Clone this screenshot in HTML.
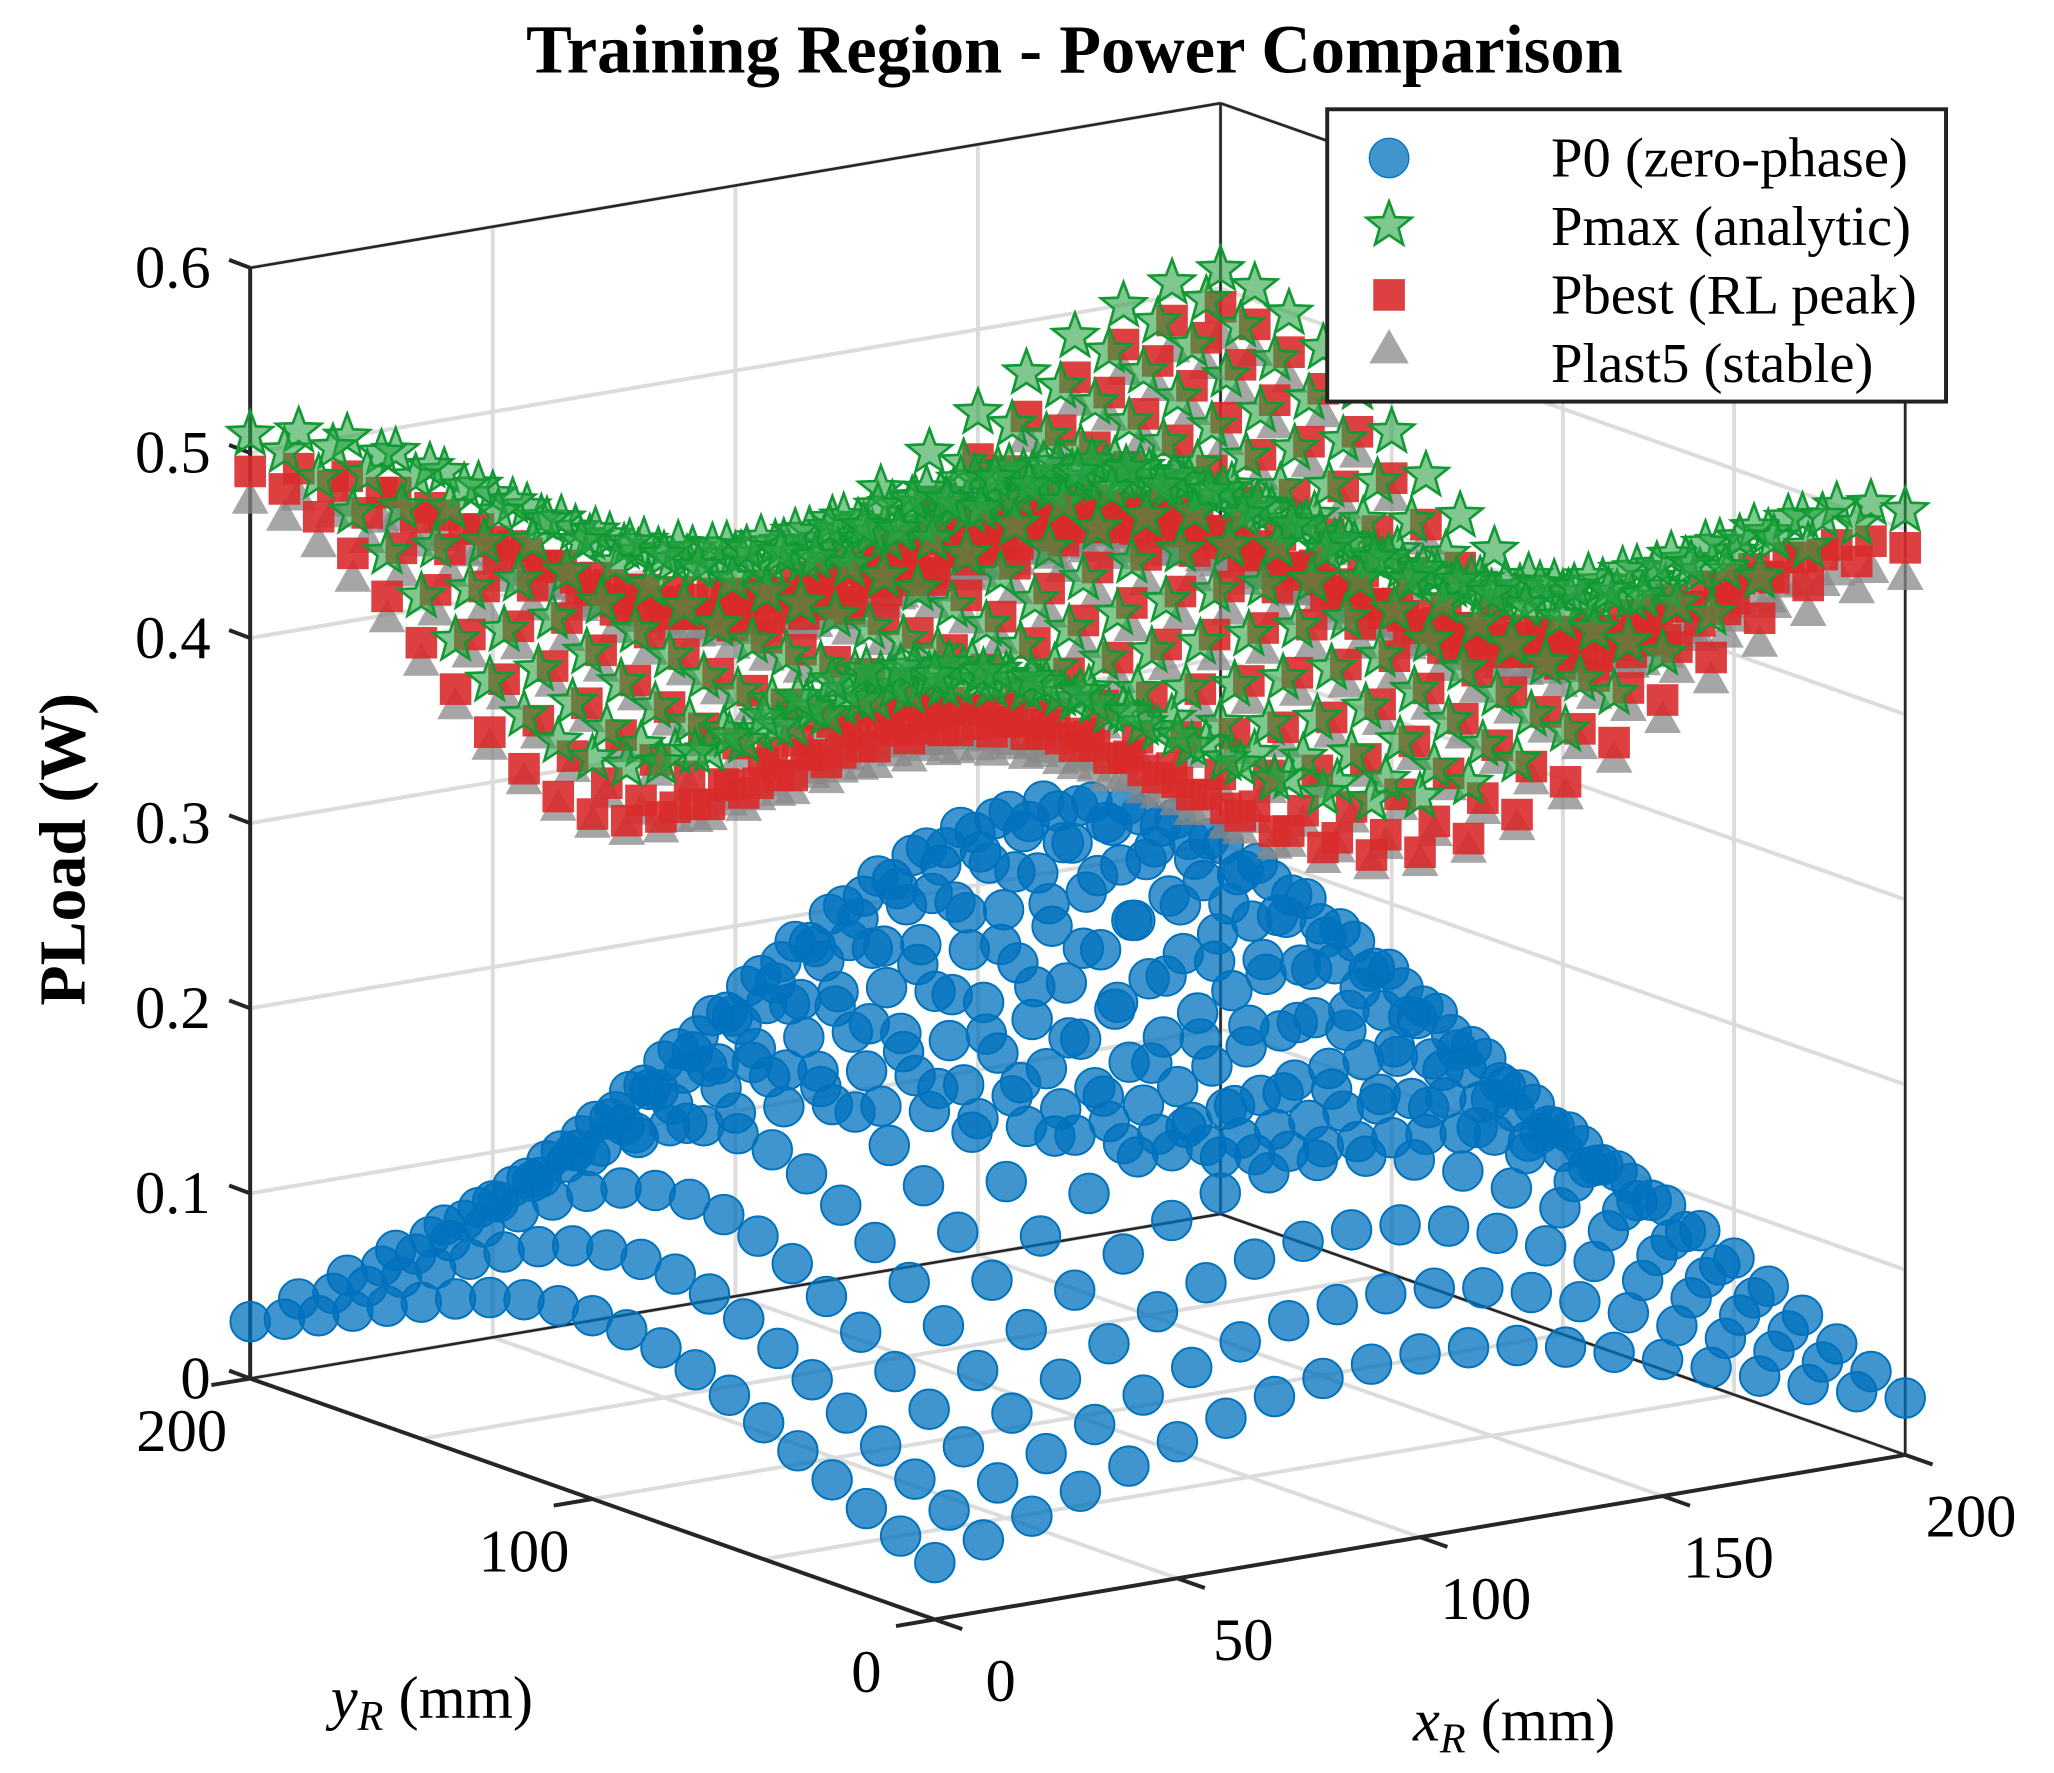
<!DOCTYPE html>
<html><head><meta charset="utf-8"><style>
html,body{margin:0;padding:0;background:#fff;}
svg{display:block;font-family:"Liberation Serif",serif;}
</style></head><body>
<svg id="chart" width="2054" height="1773" viewBox="0 0 1560 1346.6" xmlns="http://www.w3.org/2000/svg">
<g id="grid"></g>
<g id="axes"></g>
<g id="marks"></g>
<text x="816" y="55" text-anchor="middle" font-size="52" font-weight="bold">Training Region - Power Comparison</text>
<text transform="translate(64,645) rotate(-90)" text-anchor="middle" font-size="50" font-weight="bold">PLoad (W)</text>
<text x="328" y="1305" text-anchor="middle" font-size="46"><tspan font-style="italic">y</tspan><tspan font-style="italic" font-size="32" dy="9">R</tspan><tspan dy="-9"> (mm)</tspan></text>
<text x="1150" y="1322" text-anchor="middle" font-size="46"><tspan font-style="italic">x</tspan><tspan font-style="italic" font-size="32" dy="9">R</tspan><tspan dy="-9"> (mm)</tspan></text>
<g>
<rect x="1008" y="83" width="470" height="222" fill="#fff" stroke="#222" stroke-width="3"/>
<g><circle cx="1055" cy="120" r="15" fill="#0072BD" fill-opacity="0.75" stroke="#0072BD"/><text x="1178" y="134" font-size="43">P0 (zero-phase)</text></g>
<g><path id="legstar" d="" fill="#2ca444" fill-opacity="0.6" stroke="#119933" stroke-width="2"/><text x="1178" y="186" font-size="43">Pmax (analytic)</text></g>
<g><rect x="1043" y="212" width="24" height="24" fill="#d92b2b" fill-opacity="0.9"/><text x="1178" y="238" font-size="43">Pbest (RL peak)</text></g>
<g><path d="M1055,250 L1070,276 L1040,276 Z" fill="#888" fill-opacity="0.75"/><text x="1178" y="290" font-size="43">Plast5 (stable)</text></g>
</g>
</svg>
<script>
// ---- data ----
const xCats = [0,10,20,30,40,50,60,70,80,90,100,110,120,130,140,150,160,170,180,190,200];
const yCats = [0,10,20,30,40,50,60,70,80,90,100,110,120,130,140,150,160,170,180,190,200];
// P0: radial bump vs distance from centre (mm): 0,10,...,150
const radiusKnots = [0,10,20,30,40,50,60,70,80,90,100,110,120,130,140,150];
const p0Profile = [0.33,0.326,0.314,0.296,0.272,0.244,0.214,0.184,0.153,0.125,0.099,0.077,0.059,0.044,0.032,0.023];
// power surfaces: shape factors along x and y
const pwShapeX = [1,0.951,0.809,0.588,0.309,0,-0.309,-0.588,-0.809,-0.951,-1,-0.951,-0.809,-0.588,-0.309,0,0.309,0.588,0.809,0.951,1];
const pwShapeY = [1,0.951,0.809,0.588,0.309,0,-0.309,-0.588,-0.809,-0.951,-1,-0.951,-0.809,-0.588,-0.309,0,0.309,0.588,0.809,0.951,1];
const pmaxLevel = [0.455, 0.055];   // mean, amplitude
const pbestLevel = [0.43, 0.06];
const plastLevel = [0.42, 0.055];
const xTicks = [0,50,100,150,200];
const yTicks = [0,100,200];
const zTicks = [0,0.1,0.2,0.3,0.4,0.5,0.6];
const zTickLabels = ['0','0.1','0.2','0.3','0.4','0.5','0.6'];

// ---- projection ----
function P(x,y,z){const u=x/200,v=y/200;return [710+737*u-520*v,1230-125*u-183*v-z*1406];}
function radial(prof,x,y){const r=Math.hypot(x-100,y-100);let k=Math.min(Math.floor(r/10),radiusKnots.length-2);const t=(r-radiusKnots[k])/(radiusKnots[k+1]-radiusKnots[k]);return prof[k]+(prof[k+1]-prof[k])*t;}
const NS='http://www.w3.org/2000/svg';
function mk(tag,attrs,parent){const e=document.createElementNS(NS,tag);for(const k in attrs)e.setAttribute(k,attrs[k]);parent.appendChild(e);return e;}
const grid=document.getElementById('grid'),axes=document.getElementById('axes'),marks=document.getElementById('marks');
function line(a,b,par,col,w,name){const l=mk('line',{x1:a[0],y1:a[1],x2:b[0],y2:b[1],stroke:col,'stroke-width':w},par);

return l;}
const gc='#dcdcdc';
xTicks.forEach(x=>{line(P(x,200,0),P(x,200,0.6),grid,gc,3,'grid-back-wall-x');line(P(x,0,0),P(x,200,0),grid,gc,3,'grid-floor-x');});
[0,50,100,150,200].forEach(y=>{line(P(200,y,0),P(200,y,0.6),grid,gc,3,'grid-right-wall-y');line(P(0,y,0),P(200,y,0),grid,gc,3,'grid-floor-y');});
zTicks.forEach(z=>{line(P(0,200,z),P(200,200,z),grid,gc,3,'grid-back-wall-z');line(P(200,200,z),P(200,0,z),grid,gc,3,'grid-right-wall-z');});
const ac='#262626';
line(P(0,200,0),P(0,200,0.6),axes,ac,3,'z-axis-line');
line(P(200,200,0),P(200,200,0.6),axes,ac,2,'box-edge');
line(P(0,200,0.6),P(200,200,0.6),axes,ac,2,'box-edge');
line(P(200,200,0.6),P(200,0,0.6),axes,ac,2,'box-edge');
line(P(200,0,0),P(200,0,0.6),axes,ac,2,'box-edge');
line(P(0,200,0),P(200,200,0),axes,ac,2,'box-edge');
line(P(200,200,0),P(200,0,0),axes,ac,2,'box-edge');
line(P(0,0,0),P(200,0,0),axes,ac,3,'x-axis-line');
line(P(0,0,0),P(0,200,0),axes,ac,3,'y-axis-line');
function txt(s,x,y,anchor,name){const t=mk('text',{x:x,y:y,'text-anchor':anchor,'font-size':46},axes);t.textContent=s;

}
xTicks.forEach(x=>{const a=P(x,0,0),b=P(x,-8,0);line(a,b,axes,ac,3,'x-tick');txt(String(x),a[0]+50,a[1]+62,'middle','x-tick-label');});
yTicks.forEach(y=>{const a=P(0,y,0),b=P(-8,y,0);line(a,b,axes,ac,3,'y-tick');txt(String(y),a[0]-52,a[1]+55,'middle','y-tick-label');});
zTicks.forEach((z,i)=>{const a=P(0,200,z);line(a,[a[0]-16,a[1]-6],axes,ac,3,'z-tick');txt(zTickLabels[i],a[0]-30,a[1]+15,'end','z-tick-label');});
function starPath(cx,cy,R){const r=R*0.42;let d='';for(let k=0;k<10;k++){const rr=k%2?r:R,a=-Math.PI/2+k*Math.PI/5;d+=(k?'L':'M')+(cx+rr*Math.cos(a)).toFixed(1)+','+(cy+rr*Math.sin(a)).toFixed(1);}return d+'Z';}
document.getElementById('legstar').setAttribute('d',starPath(1055,171,18));
function order(){const pts=[];xCats.forEach((x,i)=>yCats.forEach((y,j)=>pts.push([i,j])));pts.sort((a,b)=>(xCats[b[0]]+yCats[b[1]])-(xCats[a[0]]+yCats[a[1]]));return pts;}
const ord=order();
function series(name,fn){const g=mk('g',{},marks);


ord.forEach(([i,j])=>{const z=fn(i,j);const p=P(xCats[i],yCats[j],z);drawMarker(name,p,g);});}
function drawMarker(name,p,g){let e;
if(name==='series-p0'){e=mk('circle',{cx:p[0],cy:p[1],r:15,fill:'#0072BD','fill-opacity':0.75,stroke:'#0072BD','stroke-width':1.5},g);}
else if(name==='series-plast5'){e=mk('path',{d:`M${p[0]},${p[1]-14}L${p[0]+14},${p[1]+11}L${p[0]-14},${p[1]+11}Z`,fill:'#888','fill-opacity':0.75},g);}
else if(name==='series-pbest'){e=mk('rect',{x:p[0]-12,y:p[1]-12,width:24,height:24,fill:'#d92b2b','fill-opacity':0.9},g);}
else {e=mk('path',{d:starPath(p[0],p[1],18),fill:'#2ca444','fill-opacity':0.6,stroke:'#119933','stroke-width':2},g);}

}
series('series-p0',(i,j)=>radial(p0Profile,xCats[i],yCats[j]));
series('series-plast5',(i,j)=>plastLevel[0]+plastLevel[1]*pwShapeX[i]*pwShapeY[j]);
series('series-pbest',(i,j)=>pbestLevel[0]+pbestLevel[1]*pwShapeX[i]*pwShapeY[j]);
series('series-pmax',(i,j)=>pmaxLevel[0]+pmaxLevel[1]*pwShapeX[i]*pwShapeY[j]);
</script>
</body></html>
